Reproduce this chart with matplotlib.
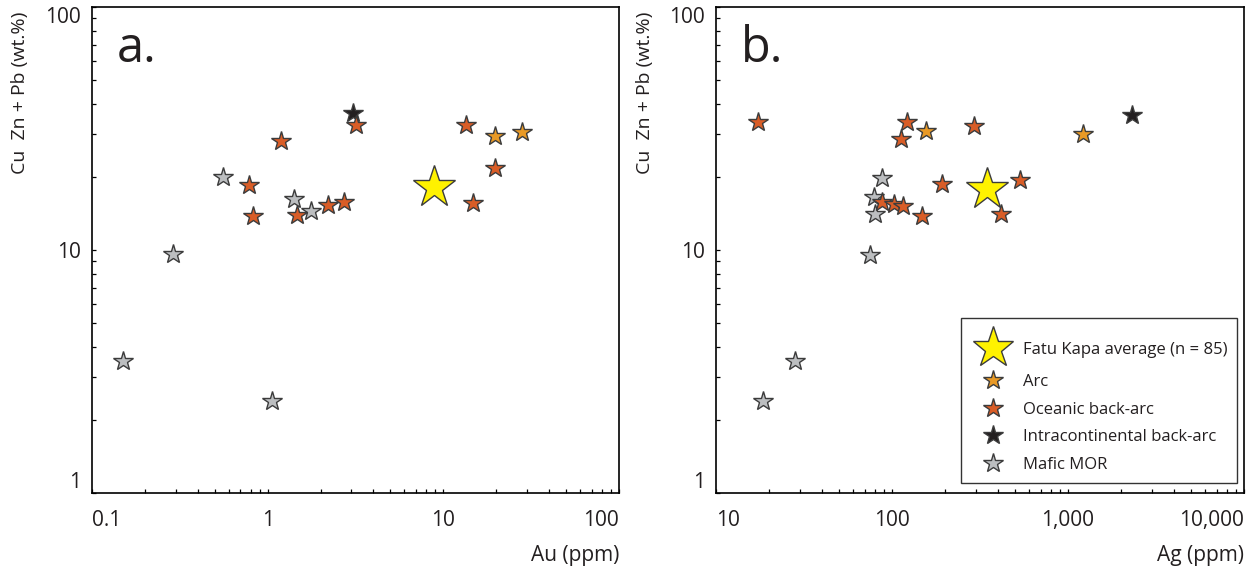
import matplotlib
matplotlib.use("Agg")
import matplotlib.pyplot as plt
from matplotlib.lines import Line2D
from matplotlib.legend_handler import HandlerLine2D
from matplotlib.ticker import FixedLocator, LogLocator, NullFormatter

plt.rcParams['font.family'] = ['Open Sans', 'DejaVu Sans']

# panel a: Au (ppm) vs Cu+Zn+Pb (wt.%)
fk_au = [8.9]
fk_cu_a = [18.2]
arc_au = [19.7, 27.9]
arc_cu_a = [29.5, 30.7]
ob_au = [3.19, 1.19, 0.78, 0.83, 1.46, 2.21, 2.72, 13.5, 19.7, 14.8]
ob_cu_a = [32.7, 28.2, 18.6, 13.8, 13.9, 15.3, 15.8, 32.7, 21.8, 15.6]
ic_au = [3.08]
ic_cu_a = [36.5]
mor_au = [0.15, 0.29, 1.06, 0.56, 1.41, 1.77]
mor_cu_a = [3.49, 9.6, 2.39, 19.9, 16.2, 14.5]

# panel b: Ag (ppm) vs Cu+Zn+Pb (wt.%)
fk_ag = [345]
fk_cu_b = [17.8]
arc_ag = [157, 1211]
arc_cu_b = [30.9, 29.9]
ob_ag = [17.3, 121, 112, 292, 193, 88, 102, 115, 149, 533, 416]
ob_cu_b = [33.7, 33.5, 28.5, 32.4, 18.7, 15.7, 15.5, 15.2, 13.8, 19.4, 14.1]
ic_ag = [2318]
ic_cu_b = [35.9]
mor_ag = [88, 79, 80, 75, 28.1, 18.6]
mor_cu_b = [19.8, 16.6, 14.1, 9.5, 3.50, 2.39]

y_ticks = [1, 10, 100]
y_labels = ["1", "10", "100"]
au_ticks = [0.1, 1, 10, 100]
au_labels = ["0.1", "1", "10", "100"]
ag_ticks = [10, 100, 1000, 10000]
ag_labels = ["10", "100", "1,000", "10,000"]

c_fk = "#fff200"
c_arc = "#e99a26"
c_ob = "#d95d27"
c_ic = "#231f20"
c_mor = "#bcbec0"
edge = "#3c3c3c"
ms = 15
ms_big = 32

fig = plt.figure(figsize=(12.52, 5.71), dpi=100)
ax1 = fig.add_axes([92/1252, 1-493/571, 527/1252, 486/571])
ax2 = fig.add_axes([716/1252, 1-493/571, 528/1252, 486/571])


def draw(ax, fx, fy, ax_, ay, ox, oy, ix, iy, mx, my):
    ax.plot(fx, fy, ls="none", marker="*", ms=ms_big, mfc=c_fk, mec=edge, mew=1, zorder=3)
    ax.plot(mx, my, ls="none", marker="*", ms=ms, mfc=c_mor, mec=edge, mew=1, zorder=4)
    ax.plot(ix, iy, ls="none", marker="*", ms=ms, mfc=c_ic, mec=edge, mew=1, zorder=4)
    ax.plot(ox, oy, ls="none", marker="*", ms=ms, mfc=c_ob, mec=edge, mew=1, zorder=5)
    ax.plot(ax_, ay, ls="none", marker="*", ms=ms, mfc=c_arc, mec=edge, mew=1, zorder=5)


draw(ax1, fk_au, fk_cu_a, arc_au, arc_cu_a, ob_au, ob_cu_a, ic_au, ic_cu_a, mor_au, mor_cu_a)
draw(ax2, fk_ag, fk_cu_b, arc_ag, arc_cu_b, ob_ag, ob_cu_b, ic_ag, ic_cu_b, mor_ag, mor_cu_b)

for ax, xt, xl, lim in [(ax1, au_ticks, au_labels, (0.1, 100)),
                        (ax2, ag_ticks, ag_labels, (10, 10000))]:
    ax.set_xscale("log")
    ax.set_yscale("log")
    ax.set_xlim(*lim)
    ax.set_ylim(1, 100)
    ax.xaxis.set_major_locator(FixedLocator(xt))
    ax.set_xticklabels(xl)
    ax.yaxis.set_major_locator(FixedLocator(y_ticks))
    ax.set_yticklabels(y_labels)
    for axis in (ax.xaxis, ax.yaxis):
        axis.set_minor_locator(LogLocator(base=10, subs=range(2, 10)))
        axis.set_minor_formatter(NullFormatter())
    ax.tick_params(which="both", direction="in", length=3, width=0.9,
                   top=False, right=False, labelsize=15, labelcolor="#231f20")
    ax.tick_params(axis="x", pad=12)
    ax.tick_params(axis="y", pad=8)
    for s in ax.spines.values():
        s.set_linewidth(1.2)
    xls = ax.get_xticklabels()
    xls[0].set_horizontalalignment("left")
    xls[-1].set_horizontalalignment("right")
    yls = ax.get_yticklabels()
    yls[0].set_verticalalignment("bottom")
    yls[-1].set_verticalalignment("top")

ax1.text(0.047, 0.886, "a.", transform=ax1.transAxes, fontsize=35, va="baseline", color="#231f20")
ax2.text(0.047, 0.886, "b.", transform=ax2.transAxes, fontsize=35, va="baseline", color="#231f20")

fig.text(20/1252, 1-12/571, "Cu  Zn + Pb (wt.%)", rotation=90, ha="center", va="top",
         fontsize=14, color="#231f20")
fig.text(645/1252, 1-12/571, "Cu  Zn + Pb (wt.%)", rotation=90, ha="center", va="top",
         fontsize=14, color="#231f20")
fig.text(619/1252, 1-555/571, "Au (ppm)", ha="right", va="center", fontsize=15, color="#231f20")
fig.text(1244/1252, 1-555/571, "Ag (ppm)", ha="right", va="center", fontsize=15, color="#231f20")


class TallHandler(HandlerLine2D):
    # give the big star row more room, like the reference legend
    def legend_artist(self, legend, orig_handle, fontsize, handlebox):
        artist = super().legend_artist(legend, orig_handle, fontsize, handlebox)
        handlebox.height += 16
        handlebox.ydescent += 6
        return artist


big = Line2D([], [], ls="none", marker="*", ms=31, mfc=c_fk, mec=edge, mew=1)
handles = [
    big,
    Line2D([], [], ls="none", marker="*", ms=ms, mfc=c_arc, mec=edge, mew=1),
    Line2D([], [], ls="none", marker="*", ms=ms, mfc=c_ob, mec=edge, mew=1),
    Line2D([], [], ls="none", marker="*", ms=ms, mfc=c_ic, mec=edge, mew=1),
    Line2D([], [], ls="none", marker="*", ms=ms, mfc=c_mor, mec=edge, mew=1),
]
names = ["Fatu Kapa average (n = 85)", "Arc", "Oceanic back-arc",
         "Intracontinental back-arc", "Mafic MOR"]
leg = ax2.legend(handles, names, loc="lower right", bbox_to_anchor=(0.987, 0.0206),
                 borderaxespad=0, fontsize=12, fancybox=False, framealpha=1,
                 handlelength=2.6, handletextpad=0.5, borderpad=0.6, labelspacing=0.7,
                 labelcolor="#231f20", handler_map={big: TallHandler()})
leg.get_frame().set_edgecolor("#333333")
leg.get_frame().set_linewidth(1.0)

fig.savefig("out.png", dpi=100)
